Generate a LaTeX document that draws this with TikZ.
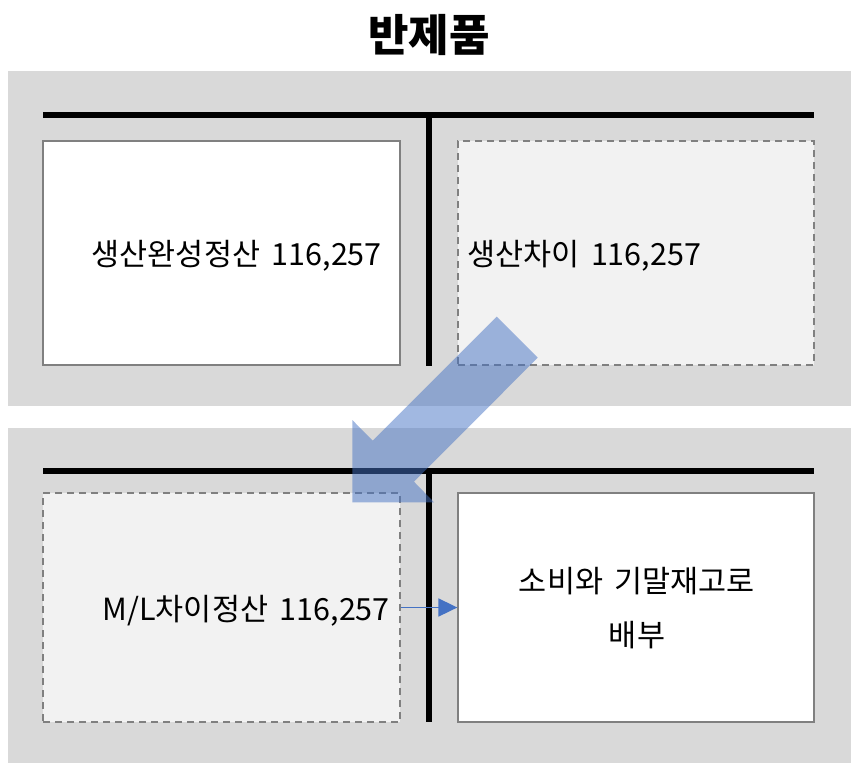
\documentclass[tikz,border=0pt]{standalone}
\usepackage{fontspec}
\setmainfont{Noto Sans CJK KR}
\usetikzlibrary{arrows.meta}
\definecolor{band}{RGB}{217,217,217}
\definecolor{lightbox}{RGB}{242,242,242}
\definecolor{edge}{RGB}{128,128,128}
\definecolor{accent}{RGB}{68,114,196}
\newcommand{\wsp}{\hspace{0.38em}}
\tikzset{
  x=1pt,y=-1pt,
  bandbox/.style={fill=band,draw=none},
  tbar/.style={line width=5.5pt,black},
  solidbox/.style={fill=white,draw=edge,line width=1.3pt},
  dashbox/.style={fill=lightbox,draw=edge,line width=1.3pt,dash pattern=on 7pt off 5pt},
  lbl/.style={font=\fontsize{30.5}{34}\selectfont,inner sep=0pt},
  bigarrow/.style={fill=accent,fill opacity=0.5,draw=none},
  smallarrow/.style={draw=accent,line width=1.8pt,-{Triangle[length=19pt,width=18pt]}}
}
\begin{document}
\begin{tikzpicture}
\useasboundingbox (0,0) rectangle (858,771);
\node[font=\bfseries\fontsize{44}{50}\selectfont,inner sep=0pt] (title) at (429,35) {반제품};
% bands
\path[bandbox] (8,71) rectangle (851,406);
\path[bandbox] (8,428) rectangle (851,763);
% top T
\coordinate (t1l) at (43,115); \coordinate (t1r) at (814,115);
\coordinate (t1m) at (429,115); \coordinate (t1b) at (429,366);
\draw[tbar] (t1l) -- (t1r);
\draw[tbar] (t1m) -- (t1b);
% bottom T
\coordinate (t2l) at (43,471); \coordinate (t2r) at (814,471);
\coordinate (t2m) at (429,471); \coordinate (t2b) at (429,722);
\draw[tbar] (t2l) -- (t2r);
\draw[tbar] (t2m) -- (t2b);
% boxes
\node[solidbox,minimum width=357pt,minimum height=224pt,inner sep=0pt] (tl) at (221.5,253) {};
\node[dashbox,minimum width=356pt,minimum height=224pt,inner sep=0pt] (tr) at (636,253) {};
\node[dashbox,minimum width=357pt,minimum height=229pt,inner sep=0pt] (bl) at (221.5,607.5) {};
\node[solidbox,minimum width=356pt,minimum height=229pt,inner sep=0pt] (br) at (636,607.5) {};
% labels
\node[lbl,anchor=east] (tltext) at (382,256) {생산완성정산\wsp{}116,257};
\node[lbl,anchor=west] (trtext) at (467,256) {생산차이\wsp{}116,257};
\node[lbl,anchor=east] (bltext) at (390,611) {M/L차이정산\wsp{}116,257};
\node[lbl,align=center,font=\fontsize{30.5}{54}\selectfont] (brtext) at (637,608) {소비와\wsp{}기말재고로\\배부};
% small arrow
\draw[smallarrow] (bl.east) -- (br.west);
% big arrow
\path[bigarrow] (496.7,316.7) -- (537.7,357.7) -- (414,481.7) -- (434,502.3)
  -- (352.3,502.3) -- (352.3,420) -- (372.7,440.7) -- cycle;
\end{tikzpicture}
\end{document}
